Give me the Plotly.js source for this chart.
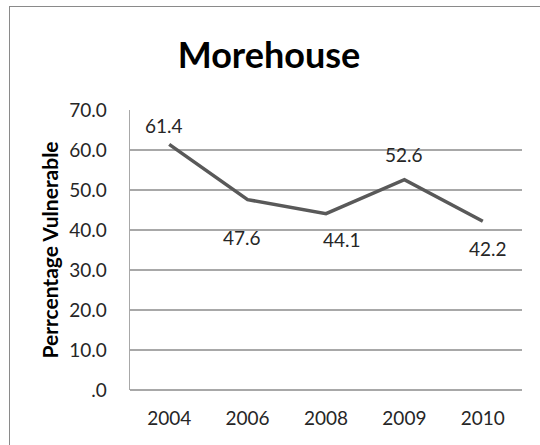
<!DOCTYPE html>
<html>
<head>
<meta charset="utf-8">
<script src="https://cdn.plot.ly/plotly-3.0.1.min.js"></script>
<style>
  html, body { margin: 0; padding: 0; background: #fff; overflow: hidden; }
  #chart { width: 540px; height: 445px; }
  #frame { position: absolute; left: 9px; top: 6px; width: 600px; height: 600px;
           border: 1.5px solid #8a8a8a; pointer-events: none; }
</style>
</head>
<body>
<div id="chart"></div>
<div id="frame"></div>
<script>
const years = ['2004', '2006', '2008', '2009', '2010'];
const vulnerable = [61.4, 47.6, 44.1, 52.6, 42.2];
const yTickVals = [0, 10, 20, 30, 40, 50, 60, 70];
const yTickText = ['.0', '10.0', '20.0', '30.0', '40.0', '50.0', '60.0', '70.0'];

const labelDx = [-5, -6, 16, 0, 5];
const labelDy = [19, -38, -26, 25, -27];

const font = 'Lato, "Open Sans", sans-serif';
const xIdx = years.map((_, i) => i);

const trace = {
  x: xIdx,
  y: vulnerable,
  type: 'scatter',
  mode: 'lines',
  line: { color: '#595959', width: 3.5 },
  hoverinfo: 'skip'
};

const annotations = xIdx.map((xi, i) => ({
  x: xi, y: vulnerable[i], xref: 'x', yref: 'y',
  text: vulnerable[i].toFixed(1),
  showarrow: false,
  xshift: labelDx[i], yshift: labelDy[i],
  font: { family: font, size: 19, color: '#262626' }
}));

const layout = {
  width: 540, height: 445,
  margin: { l: 130, r: 18, t: 110, b: 55 },
  paper_bgcolor: '#ffffff',
  plot_bgcolor: '#ffffff',
  showlegend: false,
  title: {
    text: '<b>Morehouse</b>',
    x: 269 / 540, xref: 'container', xanchor: 'center',
    y: 1 - 55 / 445, yref: 'container', yanchor: 'middle',
    font: { family: font, size: 36, color: '#000000' }
  },
  xaxis: {
    type: 'linear',
    range: [-0.5, years.length - 0.5],
    tickvals: xIdx,
    ticktext: years,
    showgrid: false,
    showline: false,
    zeroline: false,
    ticks: '',
    ticklabelstandoff: 15,
    tickfont: { family: font, size: 19, color: '#262626' }
  },
  yaxis: {
    range: [0, 70],
    tickvals: yTickVals,
    ticktext: yTickText,
    showgrid: true,
    gridcolor: '#a8a8a8',
    gridwidth: 1.5,
    showline: true,
    linecolor: '#a8a8a8',
    linewidth: 1.5,
    zeroline: true,
    zerolinecolor: '#a8a8a8',
    zerolinewidth: 1.5,
    ticks: '',
    ticklabelstandoff: 18,
    tickfont: { family: font, size: 19, color: '#262626' },
    title: {
      text: '<b>Perrcentage Vulnerable</b>',
      standoff: 5,
      font: { family: font, size: 21, color: '#000000' }
    }
  },
  annotations: annotations
};

Plotly.newPlot('chart', [trace], layout, { displayModeBar: false, staticPlot: true });
</script>
</body>
</html>
